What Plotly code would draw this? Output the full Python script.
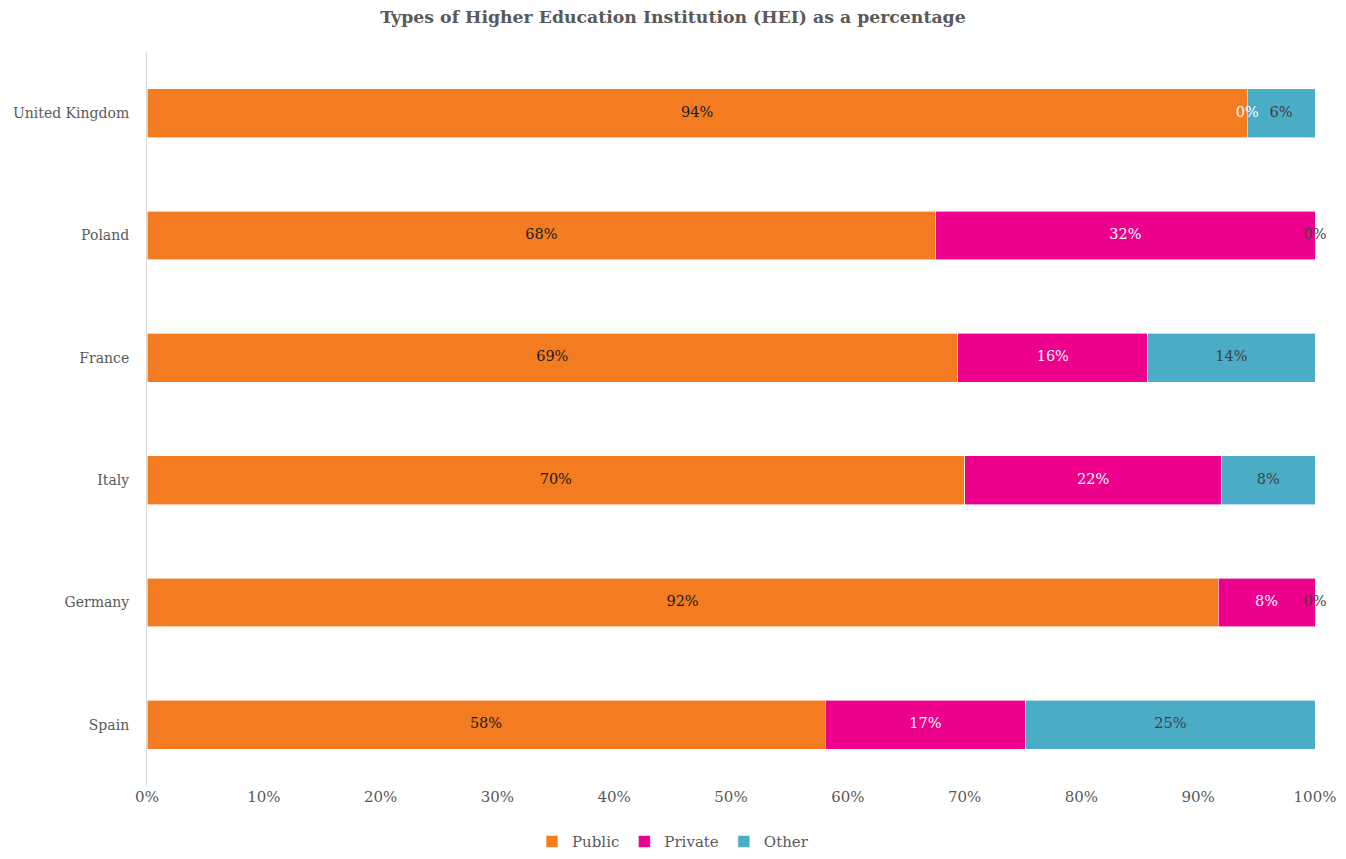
import plotly.graph_objects as go

countries = ["Spain", "Germany", "Italy", "France", "Poland", "United Kingdom"]
public = [58.05, 91.7, 70.0, 69.4, 67.55, 94.2]
private = [17.2, 8.3, 22.0, 16.3, 32.45, 0.0]
other = [24.75, 0.0, 8.0, 14.3, 0.0, 5.8]
x_ticks = [0, 10, 20, 30, 40, 50, 60, 70, 80, 90, 100]

FONT = "DejaVu Serif"
C_PUB, C_PRI, C_OTH = "#F47C20", "#EC008C", "#4BACC6"

fig = go.Figure()
series = [("Public", public, C_PUB), ("Private", private, C_PRI), ("Other", other, C_OTH)]
for name, vals, col in series:
    fig.add_trace(go.Bar(
        name=name, y=countries, x=vals, orientation="h",
        marker=dict(color=col, line=dict(color="white", width=0.6)),
        hoverinfo="x+y+name",
    ))

# data labels centred on each segment (computed from data)
label_colors = {"Public": "#1a1a1a", "Private": "#ffffff", "Other": "#404040"}
base = [0.0] * len(countries)
for name, vals, col in series:
    mids = [b + v / 2 for b, v in zip(base, vals)]
    fig.add_trace(go.Scatter(
        x=mids, y=countries, mode="text",
        text=[f"{round(v):.0f}%" for v in vals],
        textfont=dict(family=FONT, size=14.5, color=label_colors[name]),
        showlegend=False, hoverinfo="skip", cliponaxis=False,
    ))
    base = [b + v for b, v in zip(base, vals)]

fig.update_layout(
    barmode="stack",
    bargap=0.6,
    width=1330, height=843,
    paper_bgcolor="white", plot_bgcolor="white",
    margin=dict(l=139, r=23, t=44, b=65),
    font=dict(family=FONT, size=15, color="#595959"),
    title=dict(text="<b>Types of Higher Education Institution (HEI) as a percentage</b>",
               x=0.5, xanchor="center", xref="container",
               y=0.989, yanchor="middle",
               font=dict(family=FONT, size=17.3, color="#595959")),
    legend=dict(orientation="h", xref="container", x=0.5, xanchor="center",
                yref="container", y=0.011, yanchor="middle",
                font=dict(family=FONT, size=15, color="#595959"),
                traceorder="normal", itemwidth=30),
    xaxis=dict(range=[0, 100], tickvals=x_ticks,
               ticktext=[f"{t}%" for t in x_ticks],
               showgrid=False, zeroline=False, showline=False,
               ticks="", ticklen=0, fixedrange=True, automargin=False),
    yaxis=dict(categoryorder="array", categoryarray=countries,
               tickfont=dict(family=FONT, size=14, color="#595959"),
               showgrid=False, showline=True, linecolor="#d9d9d9", linewidth=1,
               ticks="", ticklabelstandoff=14, zeroline=False, automargin=False),
)

fig.write_html("out.html")
